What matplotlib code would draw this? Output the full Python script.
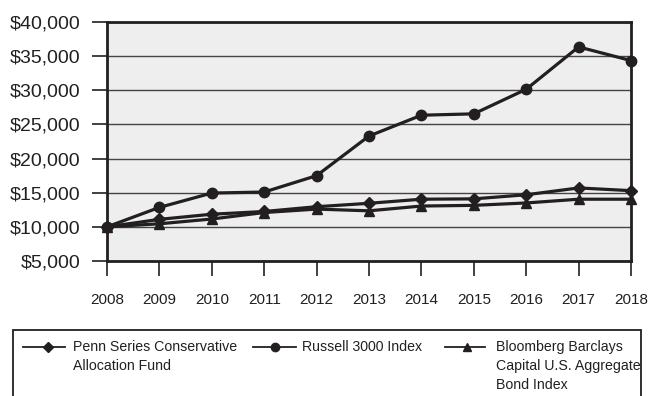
import matplotlib
matplotlib.use("Agg")
import matplotlib.pyplot as plt
from matplotlib.lines import Line2D
from matplotlib.patches import Rectangle

years = [2008, 2009, 2010, 2011, 2012, 2013, 2014, 2015, 2016, 2017, 2018]
penn = [10000, 11100, 11850, 12250, 12950, 13450, 14050, 14100, 14700, 15700, 15300]
russell = [10000, 12850, 14950, 15100, 17500, 23300, 26350, 26550, 30150, 36350, 34350]
bond = [10000, 10450, 11150, 12100, 12600, 12350, 13050, 13150, 13500, 14050, 14050]
yticks = [5000, 10000, 15000, 20000, 25000, 30000, 35000, 40000]
ylabels = ["$5,000", "$10,000", "$15,000", "$20,000", "$25,000", "$30,000", "$35,000", "$40,000"]
series_labels = ["Penn Series Conservative\nAllocation Fund", "Russell 3000 Index",
                 "Bloomberg Barclays\nCapital U.S. Aggregate\nBond Index"]

plt.rcParams['font.family'] = ['Liberation Sans', 'DejaVu Sans']

ink = "#231f20"
fig = plt.figure(figsize=(6.48, 3.96), dpi=100)
ax = fig.add_axes([107/648, 1-261/396, (631-107)/648, (261-22)/396])
ax.set_facecolor("#eeeeee")
ax.set_xlim(2008, 2018)
ax.set_ylim(5000, 40000)
ax.set_yticks(yticks)
ax.set_yticklabels(ylabels, fontsize=14, color=ink)
ax.set_xticks(years)
ax.set_xticklabels([str(y) for y in years], fontsize=11, color=ink)
for y in yticks:
    ax.axhline(y, color="#444444", lw=1.0, zorder=1)
ax.tick_params(axis='y', length=11, width=1.2, color=ink, pad=8)
ax.tick_params(axis='x', length=11, width=1.2, color=ink, pad=12)
for s in ax.spines.values():
    s.set_color(ink)
    s.set_linewidth(2)

lw = 2.3
ax.plot(years, russell, color=ink, lw=lw, marker='o', ms=7.5, zorder=4, clip_on=False)
ax.plot(years, bond, color=ink, lw=lw, marker='^', ms=7.5, zorder=3, clip_on=False)
ax.plot(years, penn, color=ink, lw=lw, marker='D', ms=5.8, zorder=5, clip_on=False)

# legend box (open at bottom)
fig.patches.append(Rectangle((13/648, -0.05), (641-13)/648, 0.05 + 1 - 330/396,
                             transform=fig.transFigure, fill=False, ec=ink, lw=1.3))
handles = [(23, 65, 48, 'D', 5), (253, 296, 275, 'o', 6), (445, 485, 467, '^', 6)]
text_x = [73, 302, 496]
for (x0, x1, xm, m, ms), tx, lab in zip(handles, text_x, series_labels):
    yl = 1 - 347/396
    fig.add_artist(Line2D([x0/648, x1/648], [yl, yl], color=ink, lw=1.3, transform=fig.transFigure))
    fig.add_artist(Line2D([xm/648], [yl], color=ink, marker=m, ms=ms, transform=fig.transFigure))
    fig.text(tx/648, 1 - 340/396, lab, fontsize=10.2, color=ink, va='top', ha='left',
             linespacing=1.45, transform=fig.transFigure)

fig.savefig("out.png", dpi=100)
